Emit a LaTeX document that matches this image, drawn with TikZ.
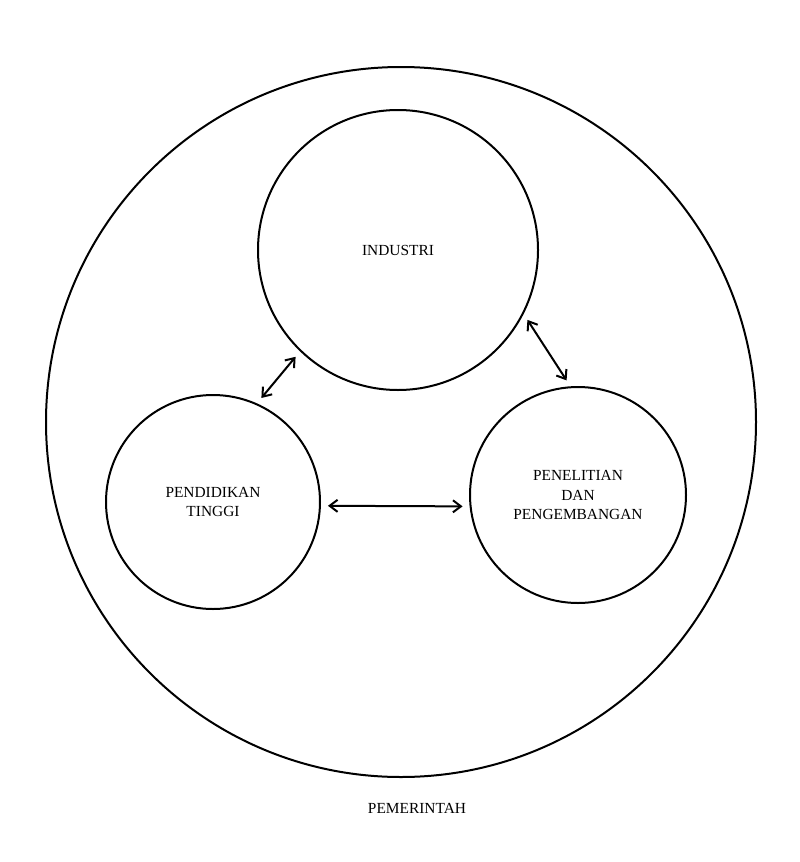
\documentclass[tikz,border=0pt]{standalone}
\usepackage{fontspec}
\setmainfont{Liberation Serif}
\usetikzlibrary{arrows.meta}
\begin{document}
\begin{tikzpicture}[x=1pt,y=-1pt,
  ring/.style={circle,draw,line width=2pt,inner sep=0pt,align=center,
    font=\fontsize{15.4}{19.5}\selectfont},
  link/.style={{Straight Barb[length=8pt,width=12pt,line width=2pt]}-{Straight Barb[length=8pt,width=12pt,line width=2pt]},
    line width=2pt,shorten <=7pt,shorten >=7pt},
  lbl/.style={font=\fontsize{15.4}{19.5}\selectfont,inner sep=0pt}]
\useasboundingbox (0,0) rectangle (800,862);
\node[ring,minimum size=710pt] (gov) at (401,422) {};
\node[ring,minimum size=280pt] (ind) at (398,250) {INDUSTRI};
\node[ring,minimum size=214pt] (pend) at (213,502) {PENDIDIKAN\\TINGGI};
\node[ring,minimum size=216pt] (pen) at (578,495) {PENELITIAN\\DAN\\PENGEMBANGAN};
\node[lbl] (govlbl) at (417,808) {PEMERINTAH};
\draw[link] (pend.66) -- (ind.226);
\draw[link] (ind.333) -- (pen.94);
\draw[link] (pend.-2.5) -- (pen.186);
\end{tikzpicture}
\end{document}
